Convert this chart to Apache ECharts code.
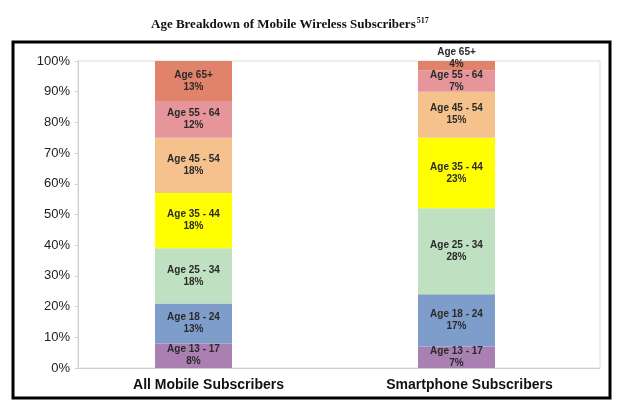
<!DOCTYPE html>
<html>
<head>
<meta charset="utf-8">
<script src="https://cdn.jsdelivr.net/npm/echarts@6/dist/echarts.min.js"></script>
<style>
  html, body { margin: 0; padding: 0; background: #fff; }
  #chart { width: 625px; height: 416px; }
</style>
</head>
<body>
<div id="chart"></div>
<script>
// groups along the x axis
const categories = ['All Mobile Subscribers', 'Smartphone Subscribers']
// age bands, bottom to top
const ageBands = ['Age 13 - 17', 'Age 18 - 24', 'Age 25 - 34', 'Age 35 - 44', 'Age 45 - 54', 'Age 55 - 64', 'Age 65+']
// percent per band, [all mobile, smartphone]
const age13to17 = [8, 7]
const age18to24 = [13, 17]
const age25to34 = [18, 28]
const age35to44 = [18, 23]
const age45to54 = [18, 15]
const age55to64 = [12, 7]
const age65plus = [13, 4]
const yTicks = [0, 10, 20, 30, 40, 50, 60, 70, 80, 90, 100]

const bandValues = [age13to17, age18to24, age25to34, age35to44, age45to54, age55to64, age65plus]
const bandColors = ['#a980b1', '#7f9dca', '#bfe0c1', '#ffff00', '#f5c28d', '#e6959a', '#e1826a']

const chart = echarts.init(document.getElementById('chart'), null, { renderer: 'canvas' })

const series = ageBands.map((name, i) => ({
  name,
  type: 'bar',
  stack: 'total',
  xAxisIndex: 1,
  yAxisIndex: 1,
  barWidth: 77,
  clip: true,
  itemStyle: { color: bandColors[i] },
  label: {
    show: true,
    position: 'inside',
    color: '#2a2a2a',
    fontFamily: 'Liberation Sans, Arial, sans-serif',
    fontWeight: 'bold',
    fontSize: 10,
    lineHeight: 12,
    formatter: (p) => `${p.seriesName}\n${p.value}%`,
  },
  data: bandValues[i].map((v, j) =>
    // small top segment: label sits up against the top edge
    (i === 6 && j === 1) ? { value: v, label: { offset: [0, -7] } } : v
  ),
}))

chart.setOption({
  animation: false,
  backgroundColor: '#fff',
  title: {
    text: '{t|Age Breakdown of Mobile Wireless Subscribers}{s|517}',
    left: 146,
    top: 12,
    textStyle: {
      rich: {
        t: { fontFamily: 'Liberation Serif, Times New Roman, serif', fontWeight: 'bold', fontSize: 13, color: '#111' },
        s: { fontFamily: 'Liberation Serif, Times New Roman, serif', fontSize: 8, color: '#111', verticalAlign: 'top', padding: [0, 0, 7, 1] },
      },
    },
  },
  graphic: [
    {
      type: 'rect',
      shape: { x: 13, y: 42, width: 597, height: 356 },
      style: { fill: 'none', stroke: '#000', lineWidth: 3 },
      z: 100,
    },
  ],
  grid: [
    // frame grid: box, y ticks, category labels
    { left: 78, right: 25, top: 61, bottom: 48, show: true, borderColor: '#dcdcdc', borderWidth: 1, backgroundColor: 'transparent' },
    // bar grid
    { left: 62, right: 37, top: 61, bottom: 48 },
  ],
  xAxis: [
    {
      type: 'category',
      gridIndex: 0,
      data: categories,
      axisLine: { show: true, lineStyle: { color: '#cfcfcf' } },
      axisTick: { show: false },
      axisLabel: {
        color: '#111',
        fontFamily: 'Liberation Sans, Arial, sans-serif',
        fontWeight: 'bold',
        fontSize: 14,
        margin: 10,
      },
    },
    {
      type: 'category',
      gridIndex: 1,
      data: categories,
      show: false,
    },
  ],
  yAxis: [
    {
      type: 'value',
      gridIndex: 0,
      min: 0,
      max: 100,
      interval: 10,
      axisLine: { show: true, lineStyle: { color: '#cfcfcf' } },
      axisTick: { show: true, length: 3, lineStyle: { color: '#cfcfcf' } },
      splitLine: { show: false },
      axisLabel: {
        color: '#222',
        fontFamily: 'Liberation Sans, Arial, sans-serif',
        fontSize: 13,
        margin: 8,
        formatter: (v) => (yTicks.includes(v) ? v + '%' : ''),
      },
    },
    {
      type: 'value',
      gridIndex: 1,
      min: 0,
      max: 100,
      show: false,
    },
  ],
  series,
})
</script>
</body>
</html>
